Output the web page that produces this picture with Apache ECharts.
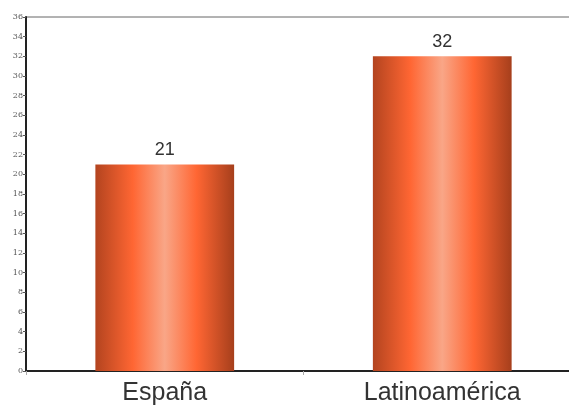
<!DOCTYPE html>
<html><head><meta charset="utf-8">
<script src="https://cdn.jsdelivr.net/npm/echarts@6/dist/echarts.min.js"></script>
<style>html,body{margin:0;padding:0;background:#fff;overflow:hidden}#c{width:569px;height:407px}</style>
</head><body><div id="c"></div>
<script>
const categories = ['España', 'Latinoamérica'];
const values = [21, 32];
const yMin = 0, yMax = 36, yStep = 2;

const grad = new echarts.graphic.LinearGradient(0, 0, 1, 0, [
  {offset: 0, color: '#b3441f'},
  {offset: 0.27, color: '#ff6633'},
  {offset: 0.5, color: '#f9a687'},
  {offset: 0.73, color: '#ff6633'},
  {offset: 1, color: '#a63f1c'}
]);

const chart = echarts.init(document.getElementById('c'));
chart.setOption({
  animation: false,
  grid: {left: 26, right: -12, top: 17, bottom: 36, outerBoundsMode: 'none', containLabel: false,
         show: true, borderColor: '#666', borderWidth: 1},
  xAxis: {
    type: 'category', data: categories,
    axisLine: {lineStyle: {color: '#222', width: 2}},
    axisTick: {show: true, alignWithLabel: false, length: 4, lineStyle: {color: '#aaa'}},
    axisLabel: {color: '#333', fontSize: 25, fontFamily: 'Liberation Sans, Arial', margin: 10}
  },
  yAxis: {
    type: 'value', min: yMin, max: yMax, interval: yStep,
    splitLine: {show: false},
    axisLine: {show: true, lineStyle: {color: '#222', width: 2}},
    axisTick: {show: true, length: 3, lineStyle: {color: '#555'}},
    axisLabel: {color: '#555', fontSize: 8, fontFamily: 'DejaVu Serif, serif', margin: 3}
  },
  series: [{
    type: 'bar', data: values, barWidth: '50%',
    itemStyle: {color: grad},
    label: {show: true, position: 'top', color: '#333', fontSize: 18, fontFamily: 'Liberation Sans, Arial', distance: 5}
  }]
});
</script></body></html>
